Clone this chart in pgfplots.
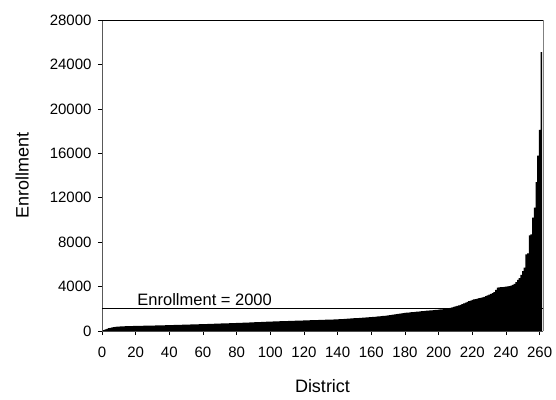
\documentclass[border=0pt]{standalone}
\usepackage{fontspec}
\setmainfont{Liberation Sans}
\usepackage{pgfplots}
\pgfplotsset{compat=1.18}
\usepackage{pgfplotstable}
\pgfplotstableread{
n y
1 80
2 150
3 200
4 250
5 290
6 320
7 350
8 370
9 390
10 400
11 410
12 420
13 425
14 430
15 435
16 440
17 445
18 450
19 452
20 455
21 460
22 462
23 466
24 470
25 473
26 476
27 480
28 484
29 487
30 490
31 494
32 498
33 502
34 505
35 509
36 513
37 517
38 520
39 525
40 530
41 534
42 538
43 543
44 547
45 552
46 556
47 560
48 565
49 570
50 574
51 578
52 583
53 587
54 592
55 596
56 600
57 605
58 610
59 615
60 620
61 625
62 630
63 636
64 641
65 646
66 651
67 656
68 661
69 666
70 672
71 677
72 682
73 687
74 692
75 698
76 703
77 708
78 713
79 718
80 724
81 729
82 734
83 740
84 745
85 750
86 757
87 763
88 770
89 777
90 784
91 790
92 797
93 803
94 810
95 817
96 823
97 830
98 837
99 843
100 850
101 855
102 860
103 865
104 870
105 875
106 880
107 885
108 890
109 895
110 900
111 905
112 910
113 915
114 920
115 925
116 930
117 935
118 940
119 945
120 950
121 955
122 960
123 965
124 970
125 975
126 980
127 985
128 990
129 995
130 1000
131 1005
132 1010
133 1015
134 1020
135 1025
136 1030
137 1035
138 1040
139 1045
140 1050
141 1060
142 1070
143 1080
144 1090
145 1100
146 1110
147 1120
148 1130
149 1140
150 1150
151 1160
152 1170
153 1180
154 1190
155 1200
156 1210
157 1220
158 1230
159 1240
160 1250
161 1265
162 1280
163 1295
164 1310
165 1325
166 1340
167 1355
168 1370
169 1385
170 1400
171 1420
172 1445
173 1470
174 1490
175 1515
176 1540
177 1560
178 1585
179 1605
180 1630
181 1650
182 1665
183 1680
184 1695
185 1710
186 1725
187 1740
188 1755
189 1770
190 1785
191 1800
192 1810
193 1825
194 1840
195 1850
196 1865
197 1880
198 1895
199 1910
200 1925
201 1940
202 1955
203 1970
204 1985
205 2000
206 2040
207 2090
208 2130
209 2170
210 2210
211 2260
212 2300
213 2360
214 2420
215 2490
216 2550
217 2620
218 2680
219 2740
220 2800
221 2840
222 2880
223 2910
224 2950
225 2990
226 3030
227 3070
228 3140
229 3210
230 3280
231 3350
232 3420
233 3500
234 3700
235 3900
236 3920
237 3940
238 3960
239 3980
240 4000
241 4020
242 4050
243 4080
244 4150
245 4250
246 4400
247 4600
248 4750
249 5050
250 5400
251 5700
252 6900
253 7000
254 8600
255 8700
256 10200
257 11100
258 13400
259 15800
260 18100
261 25100
}\enroll
\begin{document}
\begin{tikzpicture}
\begin{axis}[
  scale only axis,
  width=441pt, height=311pt,
  xmin=0, xmax=262, ymin=0, ymax=28000,
  xtick={0,20,...,260},
  ytick={0,4000,...,28000},
  scaled y ticks=false,
  axis x line*=bottom, axis y line*=left,
  axis line style={draw=gray!70!black, line width=0.9pt},
  tick align=outside,
  major tick length=4pt,
  tick style={black, line width=0.6pt},
  /pgf/number format/1000 sep={},
  /pgf/number format/assume math mode=true,
  tick label style={font=\fontsize{15}{17}\selectfont},
  xticklabel style={yshift=-8pt},
  yticklabel style={xshift=-3pt},
  xlabel={District}, ylabel={Enrollment},
  label style={font=\fontsize{18}{20}\selectfont},
  xlabel style={at={(axis description cs:0.5,-0.177)}, anchor=center},
  ylabel style={at={(axis description cs:-0.181,0.5)}, anchor=center},
  clip=false,
]
\addplot[ybar, bar width=0.9, fill=black, draw=none] table[x=n, y=y] {\enroll};
\addplot[black, line width=0.6pt] coordinates {(0,2000) (262,2000)};
\draw[black, line width=0.8pt] (rel axis cs:0,1) -- (rel axis cs:1,1);
\draw[gray, line width=0.8pt] (rel axis cs:1,1) -- (rel axis cs:1,0);
\node[anchor=south, font=\fontsize{16.5}{18}\selectfont, inner sep=3pt] at (axis cs:61,2000) {Enrollment = 2000};
\end{axis}
\pgfresetboundingbox
\path (-102pt,-68pt) rectangle (454pt,331pt);
\end{tikzpicture}
\end{document}
